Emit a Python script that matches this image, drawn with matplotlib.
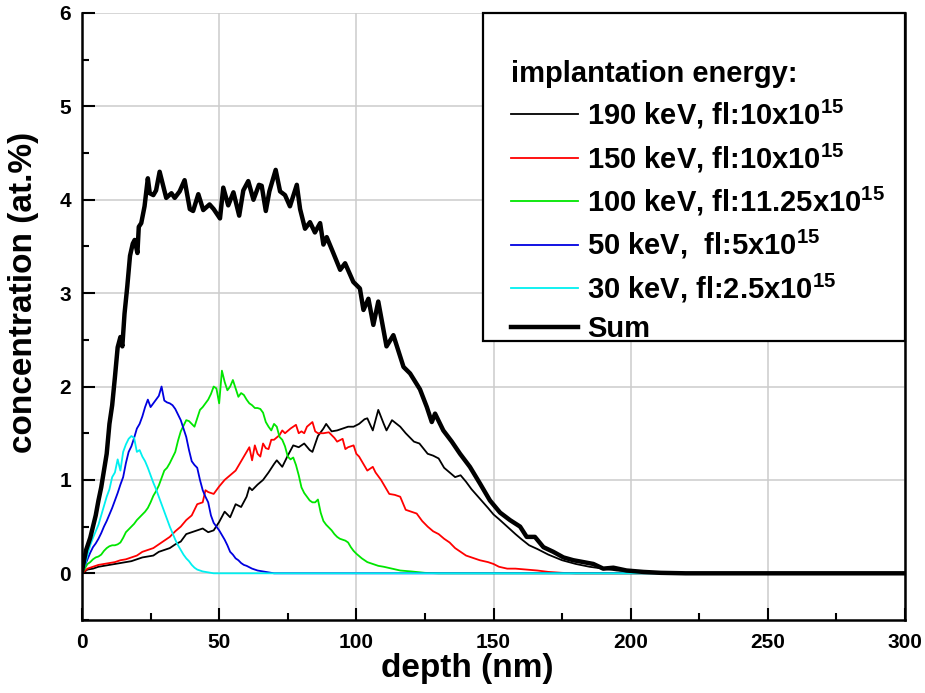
import matplotlib.pyplot as plt
from matplotlib.patches import Rectangle
from matplotlib.ticker import MultipleLocator

plt.rcParams['font.family'] = 'Liberation Sans'
plt.rcParams['font.weight'] = 'bold'
plt.rcParams['mathtext.fontset'] = 'custom'
plt.rcParams['mathtext.rm'] = 'Liberation Sans:bold'
plt.rcParams['mathtext.bf'] = 'Liberation Sans:bold'

# depth (nm), concentration (at.%) for each implantation step
pts_190 = [(0, 0), (2, 0.04), (4, 0.05), (6, 0.07), (8, 0.08), (10, 0.09), (12, 0.1), (14, 0.11),
           (16, 0.12), (18, 0.13), (20, 0.15), (22, 0.17), (24, 0.18), (26, 0.19), (28, 0.23),
           (30, 0.25), (32, 0.27), (34, 0.31), (36, 0.34), (38, 0.42), (40, 0.44), (42, 0.46),
           (44, 0.48), (46, 0.44), (48, 0.46), (50, 0.55), (52, 0.66), (54, 0.6), (56, 0.74),
           (58, 0.71), (60, 0.82), (61, 0.92), (62, 0.89), (64, 0.95), (66, 1.0), (68, 1.08),
           (70, 1.17), (71, 1.21), (73, 1.14), (75, 1.26), (77, 1.37), (79, 1.35), (81, 1.39),
           (83, 1.32), (84, 1.3), (86, 1.47), (88, 1.55), (89, 1.6), (91, 1.52), (93, 1.53),
           (95, 1.55), (97, 1.57), (99, 1.57), (101, 1.6), (103, 1.65), (104, 1.66), (106, 1.53),
           (108, 1.75), (110, 1.6), (111, 1.53), (113, 1.64), (116, 1.57), (118, 1.5), (121, 1.41),
           (123, 1.39), (126, 1.28), (128, 1.26), (130, 1.23), (132, 1.13), (134, 1.08), (136, 1.03),
           (138, 1.05), (140, 0.98), (142, 0.9), (145, 0.8), (148, 0.7), (150, 0.63), (152, 0.58),
           (155, 0.5), (158, 0.42), (160, 0.37), (163, 0.3), (166, 0.26), (170, 0.2), (175, 0.14),
           (180, 0.1), (185, 0.07), (190, 0.05), (195, 0.03), (200, 0.02), (205, 0.01), (210, 0),
           (300, 0)]

pts_150 = [(0, 0), (2, 0.05), (4, 0.07), (6, 0.09), (8, 0.1), (10, 0.11), (12, 0.12), (14, 0.14),
           (16, 0.15), (18, 0.17), (20, 0.19), (22, 0.23), (24, 0.25), (26, 0.27), (28, 0.31),
           (30, 0.35), (32, 0.39), (34, 0.45), (36, 0.5), (38, 0.57), (40, 0.62), (42, 0.74),
           (44, 0.76), (45, 0.89), (46, 0.87), (48, 0.85), (50, 0.93), (52, 1.0), (54, 1.05),
           (56, 1.1), (58, 1.2), (60, 1.3), (61, 1.35), (62, 1.21), (63, 1.37), (64, 1.28),
           (65, 1.25), (66, 1.39), (67, 1.34), (68, 1.33), (69, 1.43), (70, 1.43), (72, 1.48),
           (73, 1.53), (74, 1.5), (76, 1.55), (78, 1.59), (79, 1.5), (80, 1.52), (81, 1.5),
           (82, 1.57), (84, 1.62), (85, 1.52), (86, 1.5), (88, 1.5), (90, 1.51), (92, 1.45),
           (93, 1.41), (95, 1.44), (96, 1.33), (97, 1.35), (99, 1.37), (100, 1.28), (101, 1.25),
           (102, 1.2), (104, 1.1), (106, 1.14), (107, 1.08), (109, 1.0), (111, 0.9), (112, 0.85),
           (114, 0.84), (116, 0.82), (118, 0.68), (120, 0.66), (122, 0.64), (124, 0.56), (126, 0.5),
           (128, 0.45), (130, 0.42), (132, 0.37), (134, 0.33), (136, 0.27), (138, 0.23), (140, 0.19),
           (142, 0.17), (145, 0.14), (148, 0.12), (150, 0.1), (152, 0.07), (155, 0.05), (158, 0.05),
           (162, 0.04), (166, 0.03), (170, 0.015), (175, 0.005), (180, 0), (300, 0)]

pts_100 = [(0, 0), (1, 0.05), (2, 0.1), (3, 0.12), (4, 0.15), (5, 0.17), (6, 0.18), (7, 0.2),
           (8, 0.24), (9, 0.27), (10, 0.29), (11, 0.3), (12, 0.3), (13, 0.31), (14, 0.33), (15, 0.38),
           (16, 0.44), (17, 0.47), (18, 0.5), (19, 0.53), (20, 0.57), (21, 0.6), (22, 0.63),
           (23, 0.66), (24, 0.7), (25, 0.76), (26, 0.83), (27, 0.88), (28, 0.94), (29, 1.02),
           (30, 1.1), (31, 1.13), (32, 1.18), (33, 1.24), (34, 1.3), (35, 1.42), (36, 1.52),
           (37, 1.58), (38, 1.64), (39, 1.63), (40, 1.6), (41, 1.57), (42, 1.66), (43, 1.75),
           (44, 1.78), (45, 1.82), (46, 1.86), (47, 1.92), (48, 2.0), (49, 1.98), (50, 1.82),
           (51, 2.17), (52, 2.05), (53, 1.96), (54, 2.0), (55, 2.07), (56, 1.98), (57, 1.89),
           (58, 1.93), (59, 1.91), (60, 1.86), (61, 1.82), (62, 1.8), (63, 1.77), (64, 1.77),
           (65, 1.76), (66, 1.72), (67, 1.62), (68, 1.57), (69, 1.53), (70, 1.6), (71, 1.57),
           (72, 1.46), (73, 1.43), (74, 1.36), (75, 1.25), (76, 1.22), (77, 1.24), (78, 1.16),
           (79, 1.05), (80, 0.92), (81, 0.86), (82, 0.82), (83, 0.78), (84, 0.76), (85, 0.76),
           (86, 0.79), (87, 0.65), (88, 0.56), (89, 0.52), (90, 0.49), (91, 0.46), (92, 0.42),
           (93, 0.39), (94, 0.37), (95, 0.36), (96, 0.35), (97, 0.33), (98, 0.28), (99, 0.24),
           (100, 0.21), (102, 0.16), (104, 0.12), (106, 0.1), (108, 0.08), (110, 0.07), (113, 0.05),
           (116, 0.03), (120, 0.02), (125, 0.005), (130, 0), (300, 0)]

pts_50 = [(0, 0), (1, 0.08), (2, 0.15), (3, 0.22), (4, 0.28), (5, 0.32), (6, 0.37), (7, 0.43),
          (8, 0.5), (9, 0.56), (10, 0.63), (11, 0.7), (12, 0.78), (13, 0.86), (14, 0.95), (15, 1.03),
          (16, 1.18), (17, 1.3), (18, 1.36), (19, 1.45), (20, 1.55), (21, 1.6), (22, 1.68),
          (23, 1.78), (24, 1.86), (25, 1.78), (26, 1.82), (27, 1.86), (28, 1.9), (29, 2.0),
          (30, 1.85), (31, 1.83), (32, 1.82), (33, 1.8), (34, 1.76), (35, 1.7), (36, 1.64),
          (37, 1.55), (38, 1.46), (39, 1.32), (40, 1.2), (41, 1.16), (42, 1.13), (43, 1.0),
          (44, 0.89), (45, 0.82), (46, 0.76), (47, 0.62), (48, 0.54), (49, 0.5), (50, 0.46),
          (51, 0.41), (52, 0.36), (53, 0.3), (54, 0.23), (55, 0.2), (56, 0.16), (57, 0.14),
          (58, 0.11), (59, 0.09), (60, 0.08), (62, 0.05), (64, 0.03), (66, 0.02), (68, 0.01),
          (70, 0), (300, 0)]

pts_30 = [(0, 0), (1, 0.08), (2, 0.2), (3, 0.3), (4, 0.38), (5, 0.45), (6, 0.52), (7, 0.62),
          (8, 0.72), (9, 0.82), (10, 0.9), (11, 1.03), (12, 1.08), (13, 1.22), (14, 1.1), (15, 1.3),
          (16, 1.38), (17, 1.44), (18, 1.47), (19, 1.45), (20, 1.3), (21, 1.32), (22, 1.25),
          (23, 1.2), (24, 1.13), (25, 1.05), (26, 0.97), (27, 0.9), (28, 0.82), (29, 0.74),
          (30, 0.66), (31, 0.58), (32, 0.5), (33, 0.43), (34, 0.36), (35, 0.3), (36, 0.25),
          (37, 0.2), (38, 0.16), (39, 0.13), (40, 0.09), (41, 0.06), (42, 0.04), (43, 0.03),
          (44, 0.02), (46, 0.01), (48, 0), (300, 0)]

pts_sum = [(0, 0.02), (0.5, 0.1), (1.5, 0.25), (3, 0.38), (4, 0.5), (5, 0.62), (6, 0.78), (7, 0.92),
           (8, 1.1), (9, 1.28), (10, 1.6), (11, 1.8), (12, 2.1), (13, 2.42), (14, 2.53), (14.7, 2.43),
           (15.5, 2.78), (16.5, 3.07), (17.5, 3.4), (18.5, 3.53), (19.2, 3.57), (20.2, 3.43),
           (20.7, 3.71), (21.6, 3.75), (22.8, 3.93), (24, 4.23), (24.7, 4.07), (26, 4.05), (27, 4.1),
           (28.3, 4.3), (29.5, 4.16), (30.7, 4.02), (32.6, 4.07), (33.8, 4.02), (35.6, 4.09),
           (37.4, 4.21), (39.3, 3.9), (40.5, 3.88), (42.4, 4.06), (44.2, 3.89), (46.5, 3.95),
           (48, 3.9), (50.3, 3.8), (51.5, 4.13), (53.3, 3.94), (55.2, 4.08), (57.3, 3.83),
           (58.8, 4.1), (60.6, 4.2), (62.5, 4.0), (64.5, 4.16), (65.5, 4.15), (67, 3.88),
           (68.3, 4.09), (70.6, 4.32), (72.2, 4.09), (74, 4.05), (75.8, 3.93), (78.3, 4.16),
           (79.5, 3.9), (81.3, 3.69), (83.1, 3.76), (84.9, 3.65), (86.8, 3.75), (88, 3.52),
           (89.2, 3.6), (91.6, 3.43), (94.1, 3.25), (95.9, 3.32), (98.9, 3.12), (101.3, 3.05),
           (102.6, 2.82), (104.4, 2.94), (106.2, 2.66), (108, 2.91), (111, 2.43), (113.5, 2.55),
           (117.2, 2.21), (119.6, 2.14), (123.2, 1.97), (125.7, 1.78), (127.5, 1.62), (128.7, 1.71),
           (131.7, 1.53), (134.8, 1.41), (137.8, 1.28), (141.4, 1.14), (145.1, 0.96), (148.7, 0.78),
           (152.4, 0.65), (156, 0.57), (159.7, 0.5), (162.1, 0.39), (165.1, 0.39), (168.2, 0.28),
           (171.8, 0.23), (175.5, 0.17), (179.1, 0.14), (182.8, 0.12), (186.4, 0.1), (190, 0.05),
           (193.7, 0.06), (198.5, 0.03), (204.6, 0.015), (211, 0.005), (220, 0), (300, 0)]

labels = ['190 keV, fl:10x10$^{15}$',
          '150 keV, fl:10x10$^{15}$',
          '100 keV, fl:11.25x10$^{15}$',
          '50 keV,  fl:5x10$^{15}$',
          '30 keV, fl:2.5x10$^{15}$',
          'Sum']
series = [pts_190, pts_150, pts_100, pts_50, pts_30, pts_sum]
colors = ['black', 'red', '#00e600', '#0000e0', '#00f0f0', 'black']
widths = [1.3, 1.3, 1.3, 1.3, 1.3, 3.2]

fig = plt.figure(figsize=(9.25, 6.93), dpi=100)
ax = fig.add_axes([82 / 925, 73 / 693, 823 / 925, 607 / 693])

for pts, lab, col, lw in zip(series, labels, colors, widths):
    xs = [p[0] for p in pts]
    ys = [p[1] for p in pts]
    ax.plot(xs, ys, color=col, lw=lw, label=lab)

ax.set_xlim(0, 300)
ax.set_ylim(-0.5, 6)
ax.xaxis.set_major_locator(MultipleLocator(50))
ax.xaxis.set_minor_locator(MultipleLocator(25))
ax.yaxis.set_major_locator(MultipleLocator(1))
ax.yaxis.set_minor_locator(MultipleLocator(0.5))
ax.tick_params(which='both', direction='in', width=1.5, labelsize=15)
ax.tick_params(axis='x', which='major', length=9, pad=9)
ax.tick_params(axis='y', which='major', length=9, pad=8)
ax.tick_params(which='minor', length=5)
ax.grid(True, which='major', color='#cccccc', lw=1.1)
ax.set_axisbelow(True)
ax.spines['top'].set_visible(False)
for s in ['left', 'bottom', 'right']:
    ax.spines[s].set_linewidth(1.8)

ax.set_xlabel('depth (nm)', fontsize=24, fontweight='bold')
ax.set_ylabel('concentration (at.%)', fontsize=24, fontweight='bold')
ax.xaxis.set_label_coords(0.468, -0.054)
ax.yaxis.set_label_coords(-0.052, 0.54)

# legend without its own frame; a box is drawn round it afterwards
leg = ax.legend(loc='upper right', bbox_to_anchor=(1 - 11 / 823, 1 - 38 / 607),
                borderaxespad=0, borderpad=0.3,
                title='implantation energy:', alignment='left',
                title_fontproperties={'weight': 'bold', 'size': 21},
                prop={'weight': 'bold', 'size': 21}, handlelength=2.3,
                handletextpad=0.3, labelspacing=0.35, frameon=False)
leg.set_zorder(6)

fig.canvas.draw()
bb = leg.get_window_extent().transformed(ax.transAxes.inverted())
x0 = bb.x0 - 20 / 823
y0 = bb.y0 + 11 / 607
box = Rectangle((x0, y0), 1 - x0, 1 - y0, transform=ax.transAxes, facecolor='white',
                edgecolor='black', lw=1.6, zorder=5, clip_on=False)
ax.add_patch(box)

fig.savefig('out.png', dpi=100)
